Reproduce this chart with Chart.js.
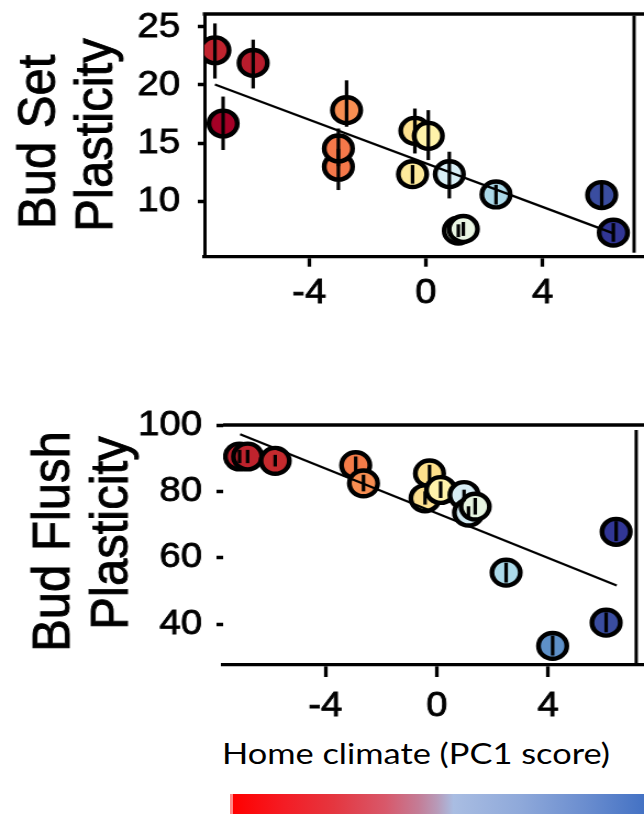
<!DOCTYPE html>
<html>
<head>
<meta charset="utf-8">
<script src="https://cdn.jsdelivr.net/npm/chart.js@4.4.1/dist/chart.umd.min.js"></script>
<style>
  html, body { margin: 0; padding: 0; background: #fff; }
  body { width: 644px; height: 815px; position: relative; overflow: hidden; }
  .panel { position: absolute; left: 0; transform-origin: 0 0; }
  #xlabel {
    position: absolute; left: 222px; top: 738px;
    font-family: Lato, "Open Sans", sans-serif; font-size: 29px; line-height: 29px;
    color: #000; white-space: nowrap; transform-origin: 0 0;
  }
  #climbar {
    position: absolute; left: 230px; top: 794px; width: 414px; height: 20px;
    background: linear-gradient(to right, #ff8a8a 0px, #ff8a8a 3px, #ff0000 3px, #f41c24 13%, #e5363f 25%,
      #d8586a 37.5%, #c47c96 45.5%, #b89ab8 50%, #a9bde2 54%, #8fa9da 70%, #6a8dcf 86%, #4472c4 100%);
  }
</style>
</head>
<body>
<canvas id="setChart" class="panel" width="586" height="330" style="top:0px"></canvas>
<canvas id="flushChart" class="panel" width="586" height="330" style="top:400px"></canvas>
<div id="xlabel">Home climate (PC1 score)</div>
<div id="climbar"></div>

<script>
// ---- Bud set plasticity vs. home climate (PC1) ----
const setPC1   = [-7.23, -5.92, -6.95, -2.72, -3.00, -3.00, -0.38, 0.08, -0.46, 0.80, 2.40, 1.11, 1.28, 6.02, 6.42];
const setValue = [22.99, 21.90, 16.68, 17.83, 12.96, 14.53, 16.05, 15.62, 12.32, 12.32, 10.57, 7.45, 7.60, 10.52, 7.28];
const setLow   = [20.55, 19.70, 14.40, 16.40, 10.95, 13.00, 14.10, 13.53, 11.50, 10.23, 9.70, 6.90, 7.00, 9.30, 6.50];
const setHigh  = [25.30, 23.90, 19.00, 20.40, 14.50, 16.25, 17.97, 17.83, 13.10, 14.25, 11.40, 8.00, 8.20, 11.50, 8.10];
const setFitX  = [-7.23, 6.42];
const setFitY  = [20.04, 7.22];
const setColors = ['#c0232e', '#b81c2c', '#a50026', '#f88e52', '#f4784a', '#f4784a', '#fee18f', '#fff3aa',
                   '#feea9c', '#d8eef5', '#abd9e9', '#e2f1dc', '#e9f5e2', '#3a4da0', '#313695'];

// ---- Bud flush plasticity vs. home climate (PC1) ----
const flushPC1   = [-7.08, -6.79, -5.80, -2.91, -2.63, -0.26, -0.42, 0.14, 0.98, 1.14, 1.38, 2.49, 4.16, 6.44, 6.08];
const flushValue = [90.5, 90.5, 89.2, 87.9, 82.4, 85.4, 77.9, 80.4, 78.9, 73.6, 75.4, 55.5, 33.4, 67.8, 40.4];
const flushLow   = [88.5, 88.5, 87.5, 85.5, 80.0, 83.0, 76.0, 78.0, 77.0, 72.0, 73.0, 52.5, 30.5, 65.0, 37.5];
const flushHigh  = [92.5, 92.5, 91.0, 90.5, 85.0, 88.0, 80.0, 83.0, 80.5, 75.5, 78.0, 58.5, 36.5, 71.0, 43.5];
const flushFitX  = [-7.06, 6.46];
const flushFitY  = [97.2, 51.6];
const flushColors = ['#bb1f2c', '#bf232d', '#c52a2e', '#f47b48', '#f88e52', '#fee08b', '#fddf8f', '#fff3aa',
                     '#d8eef5', '#d1e9f2', '#e6f4e0', '#abd9e9', '#5e90c8', '#313695', '#3a4da0'];

// ---- tick labels ----
const xTickValues = [-4, 0, 4];
const xTickLabels = ['-4', '0', '4'];
const setTickValues = [10, 15, 20, 25];
const setTickLabels = ['10', '15', '20', '25'];
const flushTickValues = [40, 60, 80, 100];
const flushTickLabels = ['40', '60', '80', '100'];

// the page is drawn narrow and stretched horizontally to the full width
const CANVAS_W = 586;
const STRETCH = 644 / CANVAS_W;
const FONT = '"Liberation Sans", Arial, Helvetica, sans-serif';

// error bars, the panel frame (top line, right edge) and the two-line axis titles
const panelDecor = {
  id: 'panelDecor',
  afterDatasetDraw(chart, args, opts) {
    if (args.index !== 0) return;
    const { ctx } = chart;
    const xs = chart.scales.x, ys = chart.scales.y;
    const pts = chart.data.datasets[0].data;
    ctx.save();
    ctx.strokeStyle = '#000';
    ctx.lineWidth = opts.barWidth;
    ctx.lineCap = 'butt';
    pts.forEach((p, i) => {
      const px = xs.getPixelForValue(p.x);
      ctx.beginPath();
      ctx.moveTo(px, ys.getPixelForValue(opts.low[i]));
      ctx.lineTo(px, ys.getPixelForValue(opts.high[i]));
      ctx.stroke();
    });
    ctx.restore();
  },
  afterDraw(chart, args, opts) {
    const { ctx, chartArea } = chart;
    const xs = chart.scales.x;
    ctx.save();
    ctx.strokeStyle = '#000';
    // top frame line
    ctx.lineWidth = 3.3;
    ctx.beginPath();
    ctx.moveTo(chartArea.left - opts.topInset, chartArea.top);
    ctx.lineTo(chartArea.right, chartArea.top);
    ctx.stroke();
    // right edge of the panel
    const ex = xs.getPixelForValue(opts.edge);
    ctx.lineWidth = 3;
    ctx.beginPath();
    ctx.moveTo(ex, chartArea.top + opts.edgeInsetTop);
    ctx.lineTo(ex, chartArea.bottom - opts.edgeInsetBottom);
    ctx.stroke();
    // axis title, two lines, reading bottom to top
    ctx.fillStyle = '#000';
    ctx.lineWidth = 0.9;
    ctx.font = opts.titleSize + 'px ' + FONT;
    ctx.textAlign = 'center';
    ctx.textBaseline = 'middle';
    opts.titles.forEach(t => {
      ctx.save();
      ctx.translate(t.x, t.y);
      ctx.rotate(-Math.PI / 2);
      ctx.fillText(t.text, 0, 0);
      ctx.strokeText(t.text, 0, 0);
      ctx.restore();
    });
    ctx.restore();
  }
};

function buildPanel(canvasId, d, lay) {
  const points = d.x.map((x, i) => ({ x: x, y: d.y[i] }));
  const fit = d.fitX.map((x, i) => ({ x: x, y: d.fitY[i] }));
  const canvas = document.getElementById(canvasId);
  canvas.style.transform = 'scaleX(' + STRETCH + ')';
  const tickFont = { family: FONT, size: 35 };
  return new Chart(canvas, {
    type: 'scatter',
    data: {
      datasets: [
        {
          data: points,
          pointRadius: 12.9, pointHoverRadius: 12.9,
          pointBackgroundColor: d.colors,
          pointBorderColor: '#000', pointBorderWidth: 4.4,
          clip: { left: 0, top: 40, right: 40, bottom: 40 },
          order: 2
        },
        {
          type: 'line',
          data: fit,
          borderColor: '#000', borderWidth: 2.3,
          pointRadius: 0, fill: false, tension: 0,
          order: 1
        }
      ]
    },
    options: {
      responsive: false,
      animation: false,
      events: [],
      layout: { autoPadding: false, padding: { top: lay.padTop, left: 0, right: 0, bottom: 0 } },
      plugins: {
        legend: { display: false },
        tooltip: { enabled: false },
        panelDecor: {
          low: d.low, high: d.high, barWidth: 3.2,
          edge: lay.edge, edgeInsetTop: lay.edgeInsetTop, edgeInsetBottom: lay.edgeInsetBottom,
          topInset: lay.topInset,
          titleSize: 49, titles: lay.titles
        }
      },
      scales: {
        x: {
          type: 'linear', position: 'bottom',
          min: lay.xMin, max: lay.xMax,
          afterBuildTicks: s => { s.ticks = xTickValues.map(v => ({ value: v })); },
          afterFit: s => { s.height = lay.xAxisHeight; s.paddingLeft = 0; s.paddingRight = 0; s.paddingTop = 0; s.paddingBottom = 0; },
          border: { display: true, color: '#000', width: 3.3 },
          grid: { display: true, drawOnChartArea: false, drawTicks: true, tickLength: lay.xTickLen, tickWidth: 3.3, tickColor: '#000', color: '#000' },
          ticks: {
            color: '#000', font: tickFont, padding: lay.xTickPad,
            textStrokeColor: '#000', textStrokeWidth: 0.8,
            maxRotation: 0, minRotation: 0, autoSkip: false,
            callback: (v, i) => xTickLabels[i]
          }
        },
        y: {
          type: 'linear', position: 'left',
          min: lay.yMin, max: lay.yMax,
          afterBuildTicks: s => { s.ticks = d.yTicks.map(v => ({ value: v })); },
          afterFit: s => { s.width = lay.yAxisWidth; s.paddingTop = 0; s.paddingBottom = 0; s.paddingLeft = 0; s.paddingRight = 0; },
          border: { display: lay.yBorder, color: '#000', width: 3 },
          grid: {
            display: true, drawOnChartArea: false, drawTicks: true,
            tickLength: lay.yTickLen, tickWidth: 3.5, tickColor: '#000', color: '#000',
            tickBorderDash: lay.yTickDash
          },
          ticks: {
            color: '#000', font: tickFont, padding: lay.yTickPad,
            textStrokeColor: '#000', textStrokeWidth: 0.8,
            autoSkip: false,
            callback: (v, i) => d.yTickLabels[i]
          }
        }
      }
    },
    plugins: [panelDecor]
  });
}

buildPanel('setChart', {
  x: setPC1, y: setValue, low: setLow, high: setHigh, fitX: setFitX, fitY: setFitY,
  colors: setColors, yTicks: setTickValues, yTickLabels: setTickLabels
}, {
  padTop: 14, yAxisWidth: 186, xAxisHeight: 73.3,
  xMin: -7.59, xMax: 7.47, yMin: 5.21, yMax: 26.11,
  xTickLen: 10, xTickPad: 6,
  yTickLen: 10, yTickPad: 12, yTickDash: [0, 4, 6.5, 100], yBorder: true,
  edge: 7.13, edgeInsetTop: 1.5, edgeInsetBottom: 4,
  topInset: 1.5,
  titles: [
    { text: 'Bud Set ', x: 36.4, y: 135 },
    { text: 'Plasticity', x: 88.3, y: 135 }
  ]
});

buildPanel('flushChart', {
  x: flushPC1, y: flushValue, low: flushLow, high: flushHigh, fitX: flushFitX, fitY: flushFitY,
  colors: flushColors, yTicks: flushTickValues, yTickLabels: flushTickLabels
}, {
  padTop: 25, yAxisWidth: 203, xAxisHeight: 65,
  xMin: -7.67, xMax: 7.44, yMin: 27.64, yMax: 100,
  xTickLen: 12, xTickPad: 8,
  yTickLen: 6, yTickPad: 13, yTickDash: [], yBorder: false,
  edge: 7.16, edgeInsetTop: 5, edgeInsetBottom: 2,
  topInset: 0,
  titles: [
    { text: 'Bud Flush', x: 49.1, y: 141.5 },
    { text: 'Plasticity', x: 102.8, y: 133 }
  ]
});

// fit the axis caption to its line width
const cap = document.getElementById('xlabel');
const w = cap.getBoundingClientRect().width;
cap.style.transform = 'scaleX(' + (388 / w) + ')';
</script>
</body>
</html>
